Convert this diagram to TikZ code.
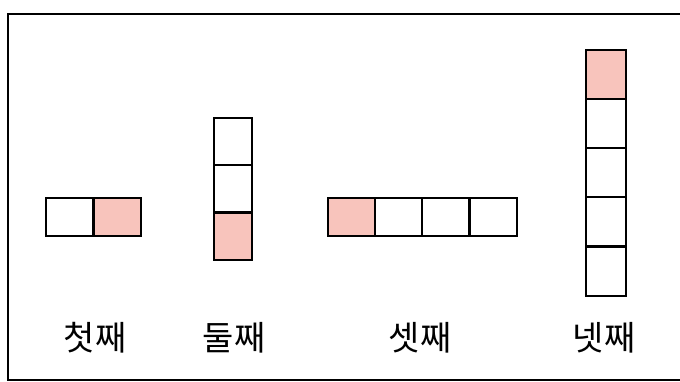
\documentclass[tikz,border=0pt]{standalone}
\usepackage{fontspec}
\newfontfamily\kr{Noto Sans CJK KR}
\definecolor{cellpink}{RGB}{248,196,188}
\begin{document}
\begin{tikzpicture}[x=1pt,y=-1pt,
  cell/.style={draw=black,line width=2.2pt,fill=white},
  hot/.style={cell,fill=cellpink},
  lab/.style={font=\kr\fontsize{34}{34}\selectfont,inner sep=0pt}]
\useasboundingbox (0,0) rectangle (680,382);
\begin{scope}
\clip (0,0) rectangle (680,382);
\draw[line width=2pt] (8,14) rectangle (690,380);
\end{scope}
% first
\draw[cell] (46,198) rectangle (93.5,236);
\draw[hot] (93.5,198) rectangle (141,236);
% second
\draw[cell] (214,118) rectangle (252,165);
\draw[cell] (214,165) rectangle (252,212.5);
\draw[hot] (214,212.5) rectangle (252,260);
% third
\draw[hot] (328,198) rectangle (375,236);
\draw[cell] (375,198) rectangle (422,236);
\draw[cell] (422,198) rectangle (469.5,236);
\draw[cell] (469.5,198) rectangle (517,236);
% fourth
\draw[hot] (586,50) rectangle (626,99);
\draw[cell] (586,99) rectangle (626,148);
\draw[cell] (586,148) rectangle (626,197);
\draw[cell] (586,197) rectangle (626,246.5);
\draw[cell] (586,246.5) rectangle (626,296);
% labels
\node[lab] (l1) at (95,338) {첫째};
\node[lab] (l2) at (234,338) {둘째};
\node[lab] (l3) at (420,338) {셋째};
\node[lab] (l4) at (604,338) {넷째};
\end{tikzpicture}
\end{document}
